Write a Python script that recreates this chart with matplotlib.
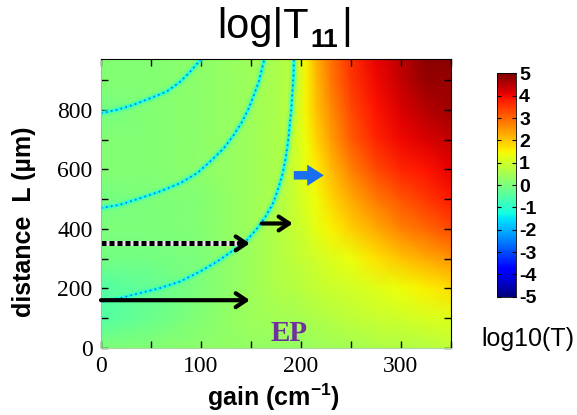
import numpy as np
import matplotlib
matplotlib.use('Agg')
import matplotlib.pyplot as plt
from matplotlib import rc

rc('font', family='Liberation Sans')
rc('axes', unicode_minus=False)
rc('mathtext', fontset='custom', rm='Liberation Sans', bf='Liberation Sans:bold')

# coarse background of log|T11|
gains = [0, 50, 100, 150, 180, 195, 205, 215, 230, 250, 275, 300, 325, 350]
Ls = [0, 100, 200, 300, 400, 500, 600, 700, 800, 900, 1000]
logT = [
    [0.0, 0.1, 0.2, 0.3, 0.3, 0.3, 0.35, 0.4, 0.45, 0.5, 0.6, 0.65, 0.7, 0.8],
    [-0.5, -0.2, 0.1, 0.4, 0.5, 0.5, 0.55, 0.6, 0.7, 0.8, 0.9, 1.0, 1.1, 1.2],
    [-0.5, -0.3, 0.0, 0.4, 0.65, 0.7, 0.75, 0.85, 0.95, 1.05, 1.2, 1.4, 1.55, 1.75],
    [-0.1, -0.1, 0.0, 0.4, 0.7, 0.8, 0.9, 1.0, 1.15, 1.35, 1.7, 2.0, 2.3, 2.5],
    [0.0, 0.0, 0.1, 0.4, 0.7, 0.9, 1.05, 1.25, 1.5, 1.9, 2.3, 2.7, 3.0, 3.3],
    [-0.1, 0.0, 0.1, 0.4, 0.65, 0.95, 1.2, 1.4, 1.8, 2.3, 2.8, 3.2, 3.5, 3.8],
    [0.1, 0.1, 0.2, 0.4, 0.6, 1.0, 1.3, 1.6, 2.1, 2.7, 3.3, 3.7, 3.9, 4.1],
    [0.1, 0.1, 0.2, 0.4, 0.6, 1.0, 1.4, 1.8, 2.4, 3.1, 3.7, 4.0, 4.2, 4.4],
    [-0.1, 0.1, 0.2, 0.4, 0.6, 0.9, 1.5, 2.0, 2.6, 3.3, 3.9, 4.2, 4.5, 4.7],
    [0.1, 0.1, 0.2, 0.4, 0.6, 0.8, 1.5, 2.1, 2.8, 3.5, 4.0, 4.4, 4.8, 4.8],
    [0.1, 0.1, 0.2, 0.4, 0.6, 0.8, 1.5, 2.2, 2.9, 3.6, 4.1, 4.5, 4.9, 4.9],
]

# zero-transmission dips (blue lines)
dip1_gain = [0, 15.8, 32.5, 49.2, 66, 79.4, 89.4, 99.5, 103]
dip1_L = [789, 800, 817, 839, 862, 895, 929, 968, 985]
dip2_gain = [0, 19.1, 39.2, 59.3, 79.4, 96.2, 109.5, 122.9, 133, 141.4, 148,
             153.1, 158.1, 162.1, 163.8, 165]
dip2_L = [470, 481, 503, 526, 554, 587, 627, 671, 716, 761, 806,
          850, 896, 951, 974, 990]
dip3_gain = [0, 19.1, 39.2, 59.3, 79.4, 99.5, 116.3, 133, 146.4, 156.5, 164.8,
             171.6, 176.6, 181.6, 184.9, 187.3, 189, 190.6, 191.7, 192.7, 193.3, 193.6]
dip3_L = [156, 167, 184, 201, 223, 257, 290, 329, 363, 402, 442,
          481, 526, 582, 638, 694, 750, 806, 862, 918, 974, 990]

fig = plt.figure(figsize=(5.77, 4.15), dpi=100)
ax = fig.add_axes([0.175, 0.162, 0.606, 0.695])

cmap = plt.get_cmap('jet')
norm = plt.Normalize(-5, 5)
G, LL = np.meshgrid(gains, Ls)
mesh = ax.pcolormesh(G, LL, np.array(logT), shading='gouraud', cmap=cmap, norm=norm)

for dg, dl in [(dip1_gain, dip1_L), (dip2_gain, dip2_L), (dip3_gain, dip3_L)]:
    ax.plot(dg, dl, color=cmap(norm(-0.6)), lw=6, alpha=0.3, solid_joinstyle='round')
    ax.plot(dg, dl, color=cmap(norm(-1.1)), lw=2.4, solid_joinstyle='round')
    ax.plot(dg, dl, color=cmap(norm(-2.6)), lw=1.2, ls=(0, (1, 2)))

# arrows
head = '->,head_length=0.75,head_width=0.5'
ax.annotate('', xy=(149, 160), xytext=(0, 160),
            arrowprops=dict(arrowstyle=head, lw=3, color='k', shrinkA=0, shrinkB=0))
ax.plot([0, 143], [351, 351], color='#eadcf0', lw=3.6, solid_capstyle='butt')
ax.plot([0, 143], [351, 351], color='k', lw=3.6, ls=(0, (1.0, 0.6)))
ax.annotate('', xy=(149, 351), xytext=(138, 351),
            arrowprops=dict(arrowstyle=head, lw=3, color='k', shrinkA=0, shrinkB=0))
ax.annotate('', xy=(192, 418), xytext=(161, 418),
            arrowprops=dict(arrowstyle=head, lw=3, color='k', shrinkA=0, shrinkB=0))
ax.annotate('', xy=(223, 580), xytext=(193, 580),
            arrowprops=dict(arrowstyle='simple,head_length=0.7,head_width=0.9,tail_width=0.36',
                            mutation_scale=17, color='#1a6ef2', lw=0, shrinkA=0, shrinkB=0))

ax.text(188, 48, 'EP', color='#7030a0', fontsize=21, fontweight='bold',
        family='Liberation Serif', ha='center', va='center')

ax.set_xlim(0, 350)
ax.set_ylim(0, 970)
ax.set_xticks(np.arange(0, 351, 50))
ax.set_xticklabels(['0', '', '100', '', '200', '', '300', ''])
ax.set_yticks(np.arange(0, 901, 100))
ax.set_yticklabels(['0', '', '200', '', '400', '', '600', '', '800', ''])
ax.tick_params(direction='in', length=5, top=True, right=True, width=1, pad=6)
for lab in ax.get_xticklabels() + ax.get_yticklabels():
    lab.set_family('Liberation Serif')
    lab.set_fontsize(17)
ax.spines['top'].set_color('k')
ax.spines['right'].set_color('k')
ax.spines['left'].set_color('#b0b0b0')
ax.spines['bottom'].set_color('#a8d8a0')

# title in pieces so the bold subscript sits low like the original
fig.text(217 / 577, 1 - 38 / 415, 'log|T', fontsize=30, ha='left', va='baseline')
fig.text(310 / 577, 1 - 47 / 415, '11', fontsize=19, fontweight='bold',
         ha='left', va='baseline')
fig.text(341 / 577, 1 - 38 / 415, '|', fontsize=30, ha='left', va='baseline')

fig.text(273 / 577, 1 - 397 / 415, r'gain (cm$^{\mathbf{-1}}$)', fontsize=18,
         fontweight='bold', ha='center', va='center')
fig.text(24 / 577, 1 - 222 / 415, 'distance  L (\u00b5m)', fontsize=18,
         fontweight='bold', ha='center', va='center', rotation=90)

cax = fig.add_axes([0.862, 0.285, 0.033, 0.538])
cb = fig.colorbar(mesh, cax=cax, ticks=range(-5, 6))
cb.outline.set_linewidth(0.6)
cax.tick_params(direction='in', length=3, left=True, right=True, pad=2)
for lab in cax.get_yticklabels():
    lab.set_fontweight('bold')
    lab.set_fontsize(14)
fig.text(528 / 577, 1 - 339 / 415, 'log10(T)', fontsize=18, ha='center', va='center')

fig.savefig('out.png', dpi=100)
